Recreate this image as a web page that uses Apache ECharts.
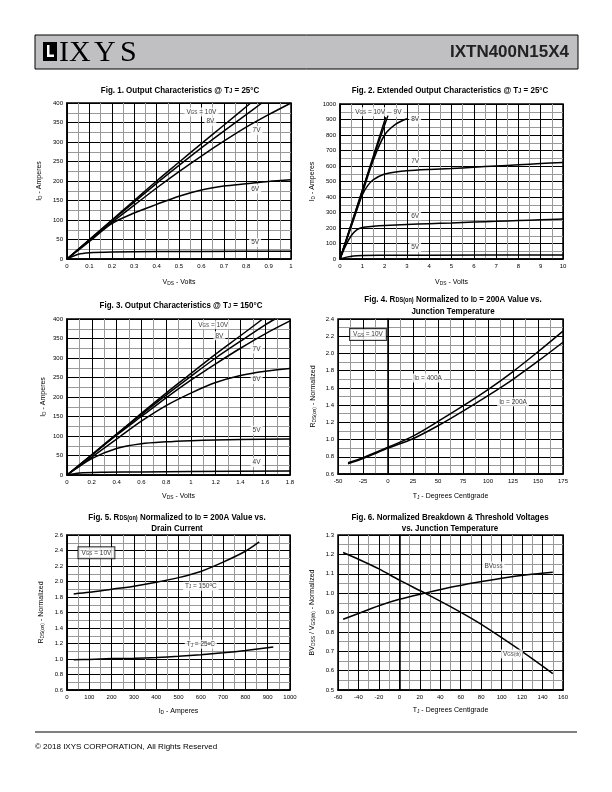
<!DOCTYPE html>
<html>
<head>
<meta charset="utf-8">
<script src="https://cdn.jsdelivr.net/npm/echarts@6/dist/echarts.min.js"></script>
<style>
html, body { margin: 0; padding: 0; background: #fff; }
#main { width: 612px; height: 792px; }
</style>
</head>
<body>
<div id="main"></div>
<script>
// Fig. 1  Output characteristics @ 25C  (VDS volts, ID amps)
const fig1Vgs10 = [[0,0],[0.1,50],[0.2,100],[0.3,150],[0.4,200],[0.5,248],[0.6,296],[0.7,343],[0.82,400]];
const fig1Vgs8  = [[0,0],[0.1,49],[0.2,98],[0.3,146],[0.4,194],[0.5,240],[0.6,285],[0.7,328],[0.8,370],[0.87,400]];
const fig1Vgs7  = [[0,0],[0.1,48],[0.2,94],[0.3,138],[0.4,182],[0.5,224],[0.6,264],[0.7,302],[0.8,338],[0.9,370],[1.0,400]];
const fig1Vgs6  = [[0,0],[0.1,45],[0.2,91],[0.3,118],[0.4,140],[0.5,161],[0.6,177],[0.7,187],[0.8,193],[0.9,199],[1.0,203]];
const fig1Vgs5  = [[0,0],[0.05,12],[0.1,16],[0.2,18],[0.4,19],[0.6,19.5],[1.0,20]];
const fig1Notes = [[0.6,377,'V{s|GS} = 10V'],[0.64,353,'8V'],[0.846,330,'7V'],[0.84,179,'6V'],[0.84,42,'5V']];

// Fig. 2  Extended output characteristics @ 25C
const fig2Vgs10 = [[0,0],[0.5,222],[1,444],[1.5,666],[2.05,915]];
const fig2Vgs9  = [[0,0],[0.5,220],[1,438],[1.5,655],[2.15,925]];
const fig2Vgs8  = [[0,0],[0.5,215],[1,425],[1.5,640],[2,800],[2.5,870],[3,905]];
const fig2Vgs7  = [[0,0],[0.5,208],[0.8,335],[1,414],[1.25,475],[1.5,512],[2,548],[2.5,562],[3,570],[4,578],[5,584],[6,592],[7,600],[8,608],[9,616],[10,623]];
const fig2Vgs6  = [[0,0],[0.25,85],[0.5,150],[0.75,188],[1,203],[1.5,211],[2,216],[3,222],[4,228],[5,232],[6,238],[7,243],[8,248],[9,253],[10,258]];
const fig2Vgs5  = [[0,0],[0.3,12],[0.6,20],[1,23],[2,24],[4,25],[10,26]];
const fig2Notes = [[1.35,950,'V{s|GS} = 10V'],[2.58,946,'9V'],[3.37,901,'8V'],[3.37,629,'7V'],[3.37,279,'6V'],[3.37,75,'5V']];

// Fig. 3  Output characteristics @ 150C
const fig3Vgs10 = [[0,0],[0.2,52],[0.4,105],[0.6,158],[0.8,210],[1.0,260],[1.2,310],[1.4,357],[1.58,400]];
const fig3Vgs8  = [[0,0],[0.2,52],[0.4,104],[0.6,155],[0.8,205],[1.0,253],[1.2,300],[1.4,343],[1.6,385],[1.68,400]];
const fig3Vgs7  = [[0,0],[0.2,51],[0.4,102],[0.6,150],[0.8,198],[1.0,243],[1.2,285],[1.4,325],[1.6,362],[1.8,395]];
const fig3Vgs6  = [[0,0],[0.2,46],[0.4,92],[0.6,138],[0.8,178],[1.0,210],[1.2,237],[1.4,255],[1.6,266],[1.8,273]];
const fig3Vgs5  = [[0,0],[0.2,42],[0.4,68],[0.6,80],[0.8,85],[1.0,88],[1.2,90],[1.4,91],[1.8,92]];
const fig3Vgs4  = [[0,0],[0.1,5],[0.3,7],[0.6,8],[1.0,9],[1.8,10]];
const fig3Notes = [[1.18,385,'V{s|GS} = 10V'],[1.23,357,'8V'],[1.53,323,'7V'],[1.53,245,'6V'],[1.53,115,'5V'],[1.53,32,'4V']];

// Fig. 4  RDS(on) normalized vs junction temperature
const fig4Id400 = [[-40,0.73],[-25,0.79],[0,0.91],[25,1.04],[50,1.21],[75,1.39],[100,1.58],[125,1.79],[150,2.02],[175,2.26]];
const fig4Id200 = [[-40,0.72],[-25,0.78],[0,0.90],[25,1.01],[50,1.16],[75,1.33],[100,1.51],[125,1.70],[150,1.91],[175,2.13]];
const fig4Notes = [[-20,2.22,'V{s|GS} = 10V',true],[40,1.715,'I{s|D} = 400A'],[125,1.436,'I{s|D} = 200A']];

// Fig. 5  RDS(on) normalized vs drain current
const fig5Tj150 = [[30,1.84],[100,1.86],[200,1.90],[300,1.94],[400,1.99],[500,2.05],[600,2.13],[700,2.25],[800,2.39],[862,2.51]];
const fig5Tj25  = [[30,0.99],[100,0.995],[200,1.005],[300,1.01],[400,1.02],[500,1.035],[600,1.055],[700,1.08],[800,1.11],[925,1.155]];
const fig5Notes = [[132,2.37,'V{s|GS} = 10V',true],[600,1.94,'T{s|J} = 150{u|o}C'],[600,1.19,'T{s|J} = 25{u|o}C']];

// Fig. 6  Breakdown & threshold voltages vs junction temperature
const fig6Bvdss = [[-55,0.865],[-40,0.895],[-20,0.935],[0,0.968],[25,1.0],[50,1.03],[75,1.055],[100,1.077],[125,1.095],[150,1.108]];
const fig6Vgsth = [[-55,1.21],[-40,1.175],[-20,1.125],[0,1.067],[25,1.0],[50,0.93],[75,0.855],[100,0.77],[125,0.68],[150,0.585]];
const fig6Notes = [[92,1.14,'BV{s|DSS}'],[110,0.686,'V{s|GS(th)}']];

const FONT = 'Arial';
const SERIF = '"Liberation Serif", "Times New Roman", serif';

function richFor(size, fam, weight) {
  return {
    s: { fontFamily: fam, fontSize: size * 0.7, fontWeight: weight, verticalAlign: 'bottom', color: '#000', fill: '#000' },
    u: { fontFamily: fam, fontSize: size * 0.7, fontWeight: weight, verticalAlign: 'top', color: '#000', fill: '#000' }
  };
}

function axis(gi, min, max, interval, name, gap, digits) {
  return {
    type: 'value', gridIndex: gi, min: min, max: max, interval: interval,
    name: name, nameLocation: 'middle', nameGap: gap,
    nameTextStyle: { fontFamily: FONT, fontSize: 7, color: '#000', rich: richFor(7, FONT, 'normal') },
    axisLine: { show: true, lineStyle: { color: '#000', width: 1.5 } },
    axisTick: { show: false },
    axisLabel: {
      fontFamily: FONT, fontSize: 6, color: '#000', margin: 4,
      formatter: v => digits == null ? String(+v.toFixed(2)) : v.toFixed(digits)
    },
    splitLine: { show: true, lineStyle: { color: '#000', width: 1 } },
    minorTick: { show: false, splitNumber: 2 },
    minorSplitLine: { show: true, lineStyle: { color: '#9a9a9a', width: 1 } }
  };
}

function curve(gi, data) {
  return {
    type: 'line', xAxisIndex: gi, yAxisIndex: gi, data: data,
    showSymbol: false, smooth: 0.3, silent: true, z: 3,
    lineStyle: { color: '#000', width: 1.5 }
  };
}

function notes(gi, items) {
  return {
    type: 'scatter', xAxisIndex: gi, yAxisIndex: gi, symbolSize: 0, silent: true, z: 5,
    label: {
      show: true, position: 'inside', fontFamily: FONT, fontSize: 6.5, color: '#000',
      backgroundColor: '#fff', padding: [1, 2], rich: richFor(6.5, FONT, 'normal')
    },
    data: items.map(it => ({
      value: [it[0], it[1]],
      label: it[3]
        ? { formatter: it[2], borderColor: '#000', borderWidth: 1, padding: [2, 3] }
        : { formatter: it[2] }
    }))
  };
}

// bold titles are set in a condensed face in the datasheet, so squeeze Arial
function title(x, y, text) {
  return {
    type: 'text', x: x, y: y, z: 10, scaleX: 0.84,
    style: {
      text: text, align: 'center', verticalAlign: 'middle',
      fontFamily: FONT, fontSize: 9.5, fontWeight: 'bold', fill: '#000',
      rich: richFor(9.5, FONT, 'bold')
    }
  };
}

function logoLetter(x, ch) {
  return { type: 'text', x: x, y: 68, style: { text: ch, fontFamily: SERIF, fontSize: 30, fill: '#000', verticalAlign: 'bottom' } };
}

const grids = [
  { left: 67, top: 103, width: 224, height: 156 },
  { left: 340, top: 104, width: 223, height: 155 },
  { left: 67, top: 319, width: 223, height: 156 },
  { left: 338, top: 319, width: 225, height: 155 },
  { left: 67, top: 535, width: 223, height: 155 },
  { left: 338, top: 535, width: 225, height: 155 }
].map(g => Object.assign(g, { show: true, borderColor: '#000', borderWidth: 1.5 }));

const idName = 'I{s|D} - Amperes';
const rdsName = 'R{s|DS(on)} - Normalized';
const tjName = 'T{s|J} - Degrees Centigrade';

const option = {
  animation: false,
  backgroundColor: '#fff',
  grid: grids,
  xAxis: [
    axis(0, 0, 1, 0.1, 'V{s|DS} - Volts', 20),
    axis(1, 0, 10, 1, 'V{s|DS} - Volts', 20),
    axis(2, 0, 1.8, 0.2, 'V{s|DS} - Volts', 18),
    axis(3, -50, 175, 25, tjName, 19),
    axis(4, 0, 1000, 100, idName, 18),
    axis(5, -60, 160, 20, tjName, 17)
  ],
  yAxis: [
    axis(0, 0, 400, 50, idName, 24),
    axis(1, 0, 1000, 100, idName, 24),
    axis(2, 0, 400, 50, idName, 20),
    axis(3, 0.6, 2.4, 0.2, rdsName, 21, 1),
    axis(4, 0.6, 2.6, 0.2, rdsName, 22, 1),
    axis(5, 0.5, 1.3, 0.1, 'BV{s|DSS} / V{s|GS(th)} - Normalized', 22, 1)
  ],
  series: [
    curve(0, fig1Vgs10), curve(0, fig1Vgs8), curve(0, fig1Vgs7), curve(0, fig1Vgs6), curve(0, fig1Vgs5),
    notes(0, fig1Notes),
    curve(1, fig2Vgs10), curve(1, fig2Vgs9), curve(1, fig2Vgs8), curve(1, fig2Vgs7), curve(1, fig2Vgs6), curve(1, fig2Vgs5),
    notes(1, fig2Notes),
    curve(2, fig3Vgs10), curve(2, fig3Vgs8), curve(2, fig3Vgs7), curve(2, fig3Vgs6), curve(2, fig3Vgs5), curve(2, fig3Vgs4),
    notes(2, fig3Notes),
    curve(3, fig4Id400), curve(3, fig4Id200),
    notes(3, fig4Notes),
    curve(4, fig5Tj150), curve(4, fig5Tj25),
    notes(4, fig5Notes),
    curve(5, fig6Bvdss), curve(5, fig6Vgsth),
    notes(5, fig6Notes)
  ],
  graphic: [
    // header bar
    { type: 'rect', shape: { x: 35, y: 35, width: 543, height: 34 }, style: { fill: '#c0c0c3', stroke: '#000', lineWidth: 1 } },
    { type: 'rect', shape: { x: 43, y: 42, width: 14, height: 19 }, style: { fill: '#000' } },
    { type: 'rect', shape: { x: 47, y: 45, width: 2.5, height: 12 }, style: { fill: '#fff' } },
    { type: 'rect', shape: { x: 47, y: 54.5, width: 7, height: 2.5 }, style: { fill: '#fff' } },
    logoLetter(59, 'I'), logoLetter(69, 'X'), logoLetter(94, 'Y'), logoLetter(120, 'S'),
    { type: 'text', x: 569, y: 52, style: { text: 'IXTN400N15X4', align: 'right', verticalAlign: 'middle', fontFamily: FONT, fontWeight: 'bold', fontSize: 17, fill: '#222' } },
    // figure titles
    title(180, 90, 'Fig. 1. Output Characteristics @ T{s|J} = 25°C'),
    title(450, 90, 'Fig. 2. Extended Output Characteristics @ T{s|J} = 25°C'),
    title(181, 305, 'Fig. 3. Output Characteristics @ T{s|J} = 150°C'),
    title(453, 299, 'Fig. 4. R{s|DS(on)} Normalized to I{s|D} = 200A Value vs.'),
    title(453, 311, 'Junction Temperature'),
    title(177, 517, 'Fig. 5. R{s|DS(on)} Normalized to I{s|D} = 200A Value vs.'),
    title(177, 528, 'Drain Current'),
    title(450, 517, 'Fig. 6. Normalized Breakdown & Threshold Voltages'),
    title(450, 528, 'vs. Junction Temperature'),
    // footer
    { type: 'line', shape: { x1: 35, y1: 732, x2: 577, y2: 732 }, style: { stroke: '#000', lineWidth: 1 } },
    { type: 'text', x: 35, y: 747, style: { text: '\u00a9 2018 IXYS CORPORATION, All Rights Reserved', verticalAlign: 'middle', fontFamily: FONT, fontSize: 8, fill: '#000' } }
  ]
};

const myChart = echarts.init(document.getElementById('main'), null, { renderer: 'canvas' });
myChart.setOption(option);
</script>
</body>
</html>
